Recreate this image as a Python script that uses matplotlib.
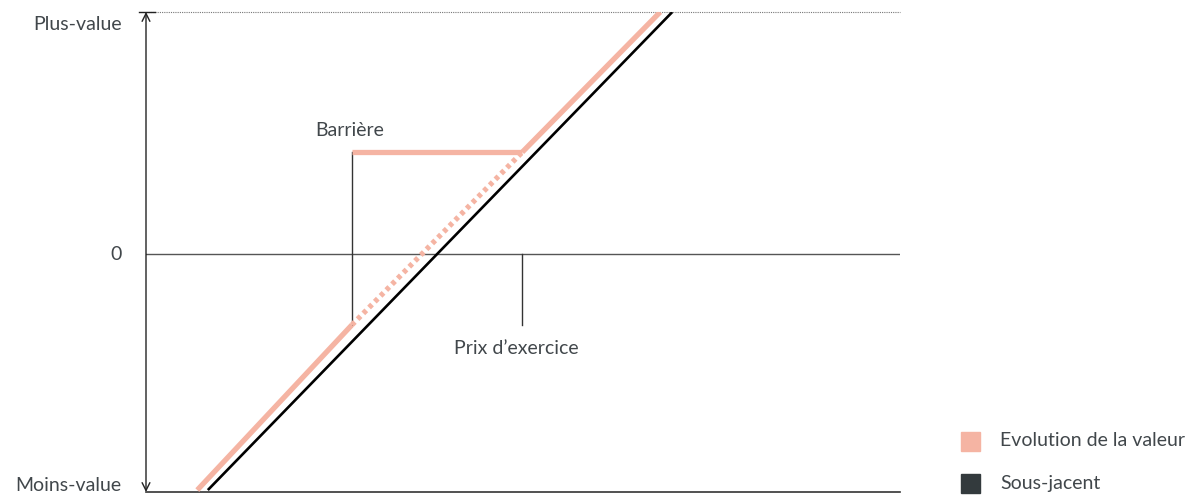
import matplotlib
matplotlib.use('Agg')
import matplotlib.pyplot as plt
from matplotlib.patches import Rectangle

plt.rcParams['font.family'] = ['Lato', 'DejaVu Sans']

# payoff points (x = price of the underlying, 0..100 ; y = -1 loss .. +1 gain)
underlying_x = [8.2, 69.8]
underlying_y = [-0.975, 1.0]

value_low_x = [6.8, 27.3]
value_low_y = [-0.975, -0.293]
value_knock_x = [27.3, 49.9]
value_knock_y = [-0.293, 0.421]
value_barrier_x = [27.3, 49.9]
value_barrier_y = [0.421, 0.421]
value_high_x = [49.9, 68.2]
value_high_y = [0.421, 1.0]

barrier_x = 27.3
strike_x = 49.9
strike_tick_y = -0.293

y_ticks = [-0.983, 0, 1.0]
y_labels = ['Moins-value', '0', 'Plus-value']

legend_labels = ['Evolution de la valeur', 'Sous-jacent']
pink = '#f5b4a3'
dark = '#333a3d'
text_col = '#41474b'
legend_colors = [pink, dark]
fs = 14

fig = plt.figure(figsize=(11.96, 4.95), dpi=100)
ax = fig.add_axes([146 / 1196, 3 / 495, 754 / 1196, 480 / 495])
ax.set_xlim(0, 100)
ax.set_ylim(-0.983, 1.0)
ax.axis('off')

# axes frame
ax.axhline(0, color='#555555', lw=1.0)
ax.axhline(-0.983, color='#333333', lw=1.2, clip_on=False)
ax.axhline(1.0, color='#777777', lw=0.8, ls=(0, (1, 1)), clip_on=False)
ax.annotate('', xy=(0, 1.0), xytext=(0, -0.983),
            arrowprops=dict(arrowstyle='<->', color='#222222', lw=1.0,
                            mutation_scale=14, shrinkA=0, shrinkB=0))
ax.plot([-0.9, 1.2], [1.0, 1.0], color='#222222', lw=1.0, clip_on=False)

# barrier / strike markers
ax.plot([barrier_x, barrier_x], [value_knock_y[0], value_barrier_y[0]],
        color='#333333', lw=1.0)
ax.plot([strike_x, strike_x], [strike_tick_y, 0], color='#333333', lw=1.0)

# series
ax.plot(underlying_x, underlying_y, color='black', lw=1.9, solid_capstyle='butt')
ax.plot(value_low_x, value_low_y, color=pink, lw=3.8, solid_capstyle='butt')
ax.plot(value_knock_x, value_knock_y, color=pink, lw=3.8, ls=(0, (0.8, 0.75)),
        dash_capstyle='butt')
ax.plot(value_barrier_x, value_barrier_y, color=pink, lw=3.8, solid_capstyle='butt')
ax.plot(value_high_x, value_high_y, color=pink, lw=3.8, solid_capstyle='butt')

ax.text(barrier_x - 4.8, 0.51, 'Barrière', fontsize=fs, color=text_col,
        ha='left', va='center')
ax.text(strike_x - 9.0, -0.39, 'Prix d\u2019exercice', fontsize=fs,
        color=text_col, ha='left', va='center')

for yv, lab in zip(y_ticks, y_labels):
    off = 0.025 if yv == -0.983 else (-0.05 if yv == 1.0 else 0)
    ax.text(-3.2, yv + off, lab, fontsize=fs, color=text_col,
            ha='right', va='center')

# legend
for i, (lab, col) in enumerate(zip(legend_labels, legend_colors)):
    yc = 1 - (441 + 42 * i) / 495
    fig.patches.append(Rectangle((961 / 1196, yc - 9.5 / 495), 19 / 1196, 19 / 495,
                                 transform=fig.transFigure, color=col))
    fig.text(1000 / 1196, yc, lab, fontsize=fs, color=text_col,
             ha='left', va='center')

fig.savefig('out.png', dpi=100)
